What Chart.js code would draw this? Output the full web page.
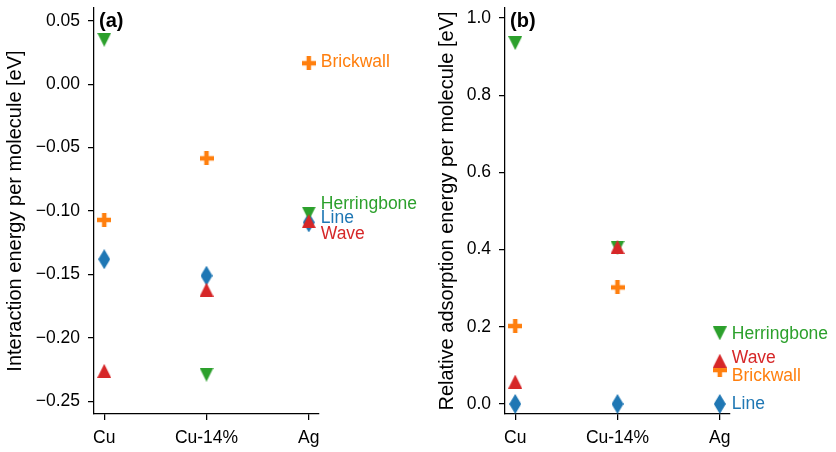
<!DOCTYPE html>
<html>
<head>
<meta charset="utf-8">
<script src="https://cdn.jsdelivr.net/npm/chart.js@4.4.0/dist/chart.umd.min.js"></script>
<style>
  body { margin: 0; background: #fff; }
  #wrap { position: relative; width: 836px; height: 452px; }
  #chartA { position: absolute; left: 0; top: 0; }
  #chartB { position: absolute; left: 420px; top: 0; }
</style>
</head>
<body>
<div id="wrap">
  <canvas id="chartA" width="420" height="452"></canvas>
  <canvas id="chartB" width="416" height="452"></canvas>
</div>
<script>
// substrates on the x axis
const substrates = ["Cu", "Cu-14%", "Ag"];

// (a) interaction energy per molecule [eV]
const interHerringbone = [0.035, -0.229, -0.102];
const interBrickwall = [-0.107, -0.0585, 0.0165];
const interLine = [-0.138, -0.151, -0.109];
const interWave = [-0.226, -0.162, -0.108];

// (b) relative adsorption energy per molecule [eV]
const adsHerringbone = [0.935, 0.405, 0.183];
const adsBrickwall = [0.202, 0.302, 0.088];
const adsLine = [0.0, 0.0, 0.0];
const adsWave = [0.058, 0.407, 0.112];

// tick values
const ticksA = [-0.25, -0.20, -0.15, -0.10, -0.05, 0.00, 0.05];
const ticksB = [0.0, 0.2, 0.4, 0.6, 0.8, 1.0];

// text labels next to the Ag points
const labelNamesA = ["Brickwall", "Herringbone", "Line", "Wave"];
const labelYA = [0.017, -0.0945, -0.106, -0.118];
const labelNamesB = ["Herringbone", "Wave", "Brickwall", "Line"];
const labelYB = [0.181, 0.119, 0.072, 0.0];

const colors = {
    Herringbone: "#2ca02c",
    Brickwall: "#ff7f0e",
    Line: "#1f77b4",
    Wave: "#d62728"
};

const FONT = "'Liberation Sans', Arial, sans-serif";

// matplotlib-like markers drawn on small canvases
function makeMarker(type, color) {
    const c = document.createElement("canvas");
    let w = 14, h = 14;
    if (type === "d") { w = 12; h = 20; }
    c.width = w; c.height = h;
    const g = c.getContext("2d");
    g.fillStyle = color;
    g.beginPath();
    if (type === "v") {
        g.moveTo(0, 0); g.lineTo(w, 0); g.lineTo(w / 2, h);
    } else if (type === "^") {
        g.moveTo(w / 2, 0); g.lineTo(w, h); g.lineTo(0, h);
    } else if (type === "d") {
        g.moveTo(w / 2, 0); g.lineTo(w, h / 2); g.lineTo(w / 2, h); g.lineTo(0, h / 2);
    } else if (type === "P") {
        const a = w * 0.32;
        const s = (w - a) / 2;
        g.rect(s, 0, a, h);
        g.rect(0, s, w, a);
    }
    g.closePath();
    g.fill();
    return c;
}

function toPoints(values) {
    return values.map((v, i) => ({ x: i, y: v }));
}

// first dataset is drawn on top
function buildDatasets(herring, brick, line, wave) {
    return [
        { label: "Wave", data: toPoints(wave), pointStyle: makeMarker("^", colors.Wave) },
        { label: "Herringbone", data: toPoints(herring), pointStyle: makeMarker("v", colors.Herringbone) },
        { label: "Line", data: toPoints(line), pointStyle: makeMarker("d", colors.Line) },
        { label: "Brickwall", data: toPoints(brick), pointStyle: makeMarker("P", colors.Brickwall) }
    ].map(ds => Object.assign(ds, { showLine: false, pointRadius: 7, pointHoverRadius: 7 }));
}

// draws the series names and the panel letter
const annotatePlugin = {
    id: "annotate",
    afterDraw(chart, args, opts) {
        const ctx = chart.ctx;
        const xs = chart.scales.x, ys = chart.scales.y;
        ctx.save();
        ctx.font = "17.5px " + FONT;
        ctx.textBaseline = "middle";
        ctx.textAlign = "left";
        opts.names.forEach((name, i) => {
            ctx.fillStyle = colors[name];
            ctx.fillText(name, xs.getPixelForValue(2) + 12, ys.getPixelForValue(opts.ys[i]));
        });
        ctx.font = "bold 20px " + FONT;
        ctx.fillStyle = "#000";
        ctx.textBaseline = "top";
        ctx.fillText(opts.letter, chart.chartArea.left + 5, chart.chartArea.top + 3);
        ctx.restore();
    }
};

function buildChart(id, datasets, cfg) {
    const axisGrid = { display: true, drawOnChartArea: false, drawTicks: true, tickLength: 6, color: "#000", lineWidth: 1.25 };
    const axisBorder = { display: true, color: "#000", width: 1.25 };
    return new Chart(document.getElementById(id), {
        type: "scatter",
        data: { datasets: datasets },
        options: {
            responsive: false,
            animation: false,
            events: [],
            layout: { padding: { left: 0, right: cfg.right, top: 7, bottom: 0 } },
            plugins: {
                legend: { display: false },
                tooltip: { enabled: false },
                annotate: { names: cfg.names, ys: cfg.labelY, letter: cfg.letter }
            },
            scales: {
                x: {
                    type: "linear",
                    min: -0.1,
                    max: 2.1,
                    grid: axisGrid,
                    border: axisBorder,
                    afterBuildTicks: s => { s.ticks = substrates.map((c, i) => ({ value: i })); },
                    afterFit: s => { s.height = 38; s.paddingLeft = 0; s.paddingRight = 0; },
                    ticks: {
                        color: "#000",
                        padding: 8,
                        font: { family: FONT, size: 17.5 },
                        callback: v => substrates[v]
                    }
                },
                y: {
                    type: "linear",
                    min: cfg.min,
                    max: cfg.max,
                    grid: axisGrid,
                    border: axisBorder,
                    afterBuildTicks: s => { s.ticks = cfg.ticks.map(v => ({ value: v })); },
                    afterFit: s => { s.width = cfg.axisWidth; s.paddingTop = 0; s.paddingBottom = 0; },
                    ticks: {
                        color: "#000",
                        padding: 8,
                        font: { family: FONT, size: 17.5 },
                        callback: v => v.toFixed(cfg.decimals).replace("-", "\u2212")
                    },
                    title: {
                        display: true,
                        text: cfg.title,
                        color: "#000",
                        font: { family: FONT, size: 20 },
                        padding: { top: cfg.titlePad, bottom: 0 }
                    }
                }
            }
        },
        plugins: [annotatePlugin]
    });
}

buildChart("chartA", buildDatasets(interHerringbone, interBrickwall, interLine, interWave), {
    min: -0.26, max: 0.06, ticks: ticksA, decimals: 2,
    axisWidth: 94, right: 101, titlePad: 3,
    title: "Interaction energy per molecule [eV]",
    names: labelNamesA, labelY: labelYA, letter: "(a)"
});

buildChart("chartB", buildDatasets(adsHerringbone, adsBrickwall, adsLine, adsWave), {
    min: -0.026, max: 1.026, ticks: ticksB, decimals: 1,
    axisWidth: 85, right: 106, titlePad: 15,
    title: "Relative adsorption energy per molecule [eV]",
    names: labelNamesB, labelY: labelYB, letter: "(b)"
});
</script>
</body>
</html>
